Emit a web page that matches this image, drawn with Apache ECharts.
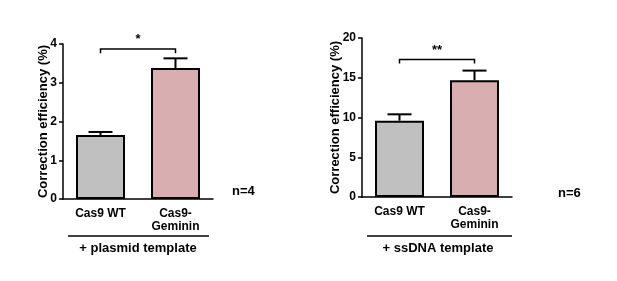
<!DOCTYPE html>
<html>
<head>
  <meta charset="UTF-8">
  <title>correction efficiency</title>
  <style>
    html, body { margin: 0; padding: 0; background: #fff; }
    #chart { width: 617px; height: 281px; }
  </style>
  <script src="https://cdn.jsdelivr.net/npm/echarts@6/dist/echarts.min.js"></script>
</head>
<body>
<div id="chart"></div>
<script type="text/javascript">
  const categories = ['Cas9 WT', 'Cas9-\nGeminin'];
  const plasmidMean = [1.65, 3.38];
  const plasmidErr = [0.08, 0.25];
  const ssdnaMean = [9.6, 14.7];
  const ssdnaErr = [0.8, 1.2];
  const barColors = ['#c0c0c0', '#d8aeb0'];
  const font = 'Liberation Sans, Arial, sans-serif';

  const chart = echarts.init(document.getElementById('chart'));

  // error bars: only the upper whisker, like GraphPad
  function errorBar(params, api) {
    const x = api.value(0);
    const top = api.coord([x, api.value(1) + api.value(2)]);
    const base = api.coord([x, api.value(1)]);
    const style = { stroke: '#000', lineWidth: 2 };
    return {
      type: 'group',
      children: [
        { type: 'line', shape: { x1: top[0], y1: base[1], x2: top[0], y2: top[1] }, style: style },
        { type: 'line', shape: { x1: top[0] - 12, y1: top[1], x2: top[0] + 12, y2: top[1] }, style: style }
      ]
    };
  }

  // significance bracket between the two bars, stars count in value(2)
  function bracket(params, api) {
    const a = api.coord([0, api.value(0)]);
    const b = api.coord([1, api.value(0)]);
    const foot = api.coord([0, api.value(1)]);
    const style = { stroke: '#000', lineWidth: 1.5, fill: null };
    return {
      type: 'group',
      children: [
        { type: 'polyline', shape: { points: [[a[0], foot[1]], [a[0], a[1]], [b[0], b[1]], [b[0], foot[1]]] }, style: style },
        { type: 'text', x: (a[0] + b[0]) / 2, y: a[1] - 3, style: {
          text: '*'.repeat(api.value(2)), fill: '#000', font: 'bold 13px ' + font,
          align: 'center', verticalAlign: 'bottom' } }
      ]
    };
  }

  function yAxis(gridIndex, max, interval, gap) {
    return {
      type: 'value', gridIndex: gridIndex, min: 0, max: max, interval: interval,
      name: 'Correction efficiency (%)', nameLocation: 'middle', nameGap: gap,
      nameMoveOverlap: false,
      nameTextStyle: { fontFamily: font, fontWeight: 'bold', fontSize: 13, color: '#000' },
      splitLine: { show: false },
      axisLine: { show: true, lineStyle: { color: '#000', width: 1.5 } },
      axisTick: { show: true, length: 4, lineStyle: { color: '#000', width: 1.5 } },
      axisLabel: { fontFamily: font, fontWeight: 'bold', fontSize: 12, color: '#000', margin: 6 }
    };
  }

  function xAxis(gridIndex) {
    return {
      type: 'category', gridIndex: gridIndex, data: categories,
      axisLine: { lineStyle: { color: '#000', width: 1.5 } },
      axisTick: { alignWithLabel: true, length: 3, lineStyle: { color: '#000', width: 1.5 } },
      axisLabel: { fontFamily: font, fontWeight: 'bold', fontSize: 12, color: '#000', margin: 8, lineHeight: 13 }
    };
  }

  function bars(idx, values) {
    return {
      type: 'bar', xAxisIndex: idx, yAxisIndex: idx, barWidth: 49,
      data: values.map(function (v, i) {
        return { value: v, itemStyle: { color: barColors[i], borderColor: '#000', borderWidth: 2 } };
      }),
      z: 2
    };
  }

  function errs(idx, means, errs) {
    return {
      type: 'custom', xAxisIndex: idx, yAxisIndex: idx, renderItem: errorBar, z: 1,
      data: means.map(function (m, i) { return [i, m, errs[i]]; })
    };
  }

  const txt = { fill: '#000', font: 'bold 13px ' + font };

  chart.setOption({
    animation: false,
    grid: [
      { left: 63, top: 44, width: 150, height: 155 },
      { left: 362, top: 38, width: 150, height: 159 }
    ],
    xAxis: [xAxis(0), xAxis(1)],
    yAxis: [yAxis(0, 4, 1, 13), yAxis(1, 20, 5, 20)],
    series: [
      errs(0, plasmidMean, plasmidErr),
      bars(0, plasmidMean),
      { type: 'custom', xAxisIndex: 0, yAxisIndex: 0, renderItem: bracket, data: [[3.87, 3.76, 1]] },
      errs(1, ssdnaMean, ssdnaErr),
      bars(1, ssdnaMean),
      { type: 'custom', xAxisIndex: 1, yAxisIndex: 1, renderItem: bracket, data: [[17.3, 16.8, 2]] }
    ],
    graphic: [
      { type: 'line', shape: { x1: 68, y1: 236, x2: 209, y2: 236 }, style: { stroke: '#000', lineWidth: 1.5 } },
      { type: 'text', x: 138, y: 248, style: Object.assign({ text: '+ plasmid template', align: 'center', verticalAlign: 'middle' }, txt) },
      { type: 'text', x: 232, y: 191, style: Object.assign({ text: 'n=4', verticalAlign: 'middle' }, txt) },
      { type: 'line', shape: { x1: 367, y1: 236, x2: 512, y2: 236 }, style: { stroke: '#000', lineWidth: 1.5 } },
      { type: 'text', x: 438, y: 248, style: Object.assign({ text: '+ ssDNA template', align: 'center', verticalAlign: 'middle' }, txt) },
      { type: 'text', x: 558, y: 193, style: Object.assign({ text: 'n=6', verticalAlign: 'middle' }, txt) }
    ]
  });
</script>
</body>
</html>
